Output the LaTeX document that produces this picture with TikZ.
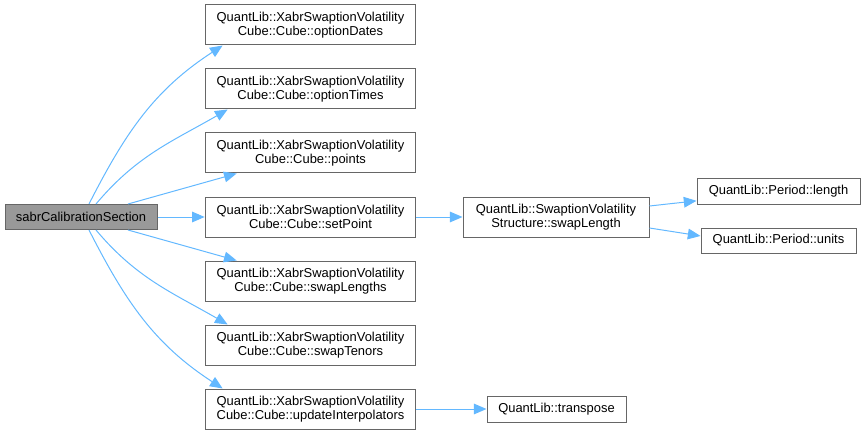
\documentclass[tikz,border=0pt]{standalone}
\usepackage{fontspec}
\setmainfont{Liberation Sans}
\usetikzlibrary{arrows.meta}

\definecolor{edgeblue}{HTML}{63B8FF}
\definecolor{boxgray}{HTML}{666666}
\definecolor{rootgray}{HTML}{999999}

\begin{document}
\begin{tikzpicture}[x=0.75pt,y=0.75pt,
    >={Triangle[length=9.5pt,width=8pt]},
    fn/.style={draw=boxgray,fill=white,line width=0.75pt,align=center,
      inner sep=2pt,font=\fontsize{9.7}{10.7}\selectfont},
    cube/.style={fn,minimum width=158pt,minimum height=30pt},
    edge/.style={->,draw=edgeblue,line width=0.75pt}]
  \useasboundingbox (0,0) rectangle (865,-435);

  % caller
  \node[fn,fill=rootgray,minimum width=114pt,minimum height=18.75pt] (root)
    at (81,-217) {sabrCalibrationSection};

  % Cube members
  \node[cube] (dates)  at (310.5,-25)  {QuantLib::XabrSwaptionVolatility\\Cube::Cube::optionDates};
  \node[cube] (times)  at (310.5,-89)  {QuantLib::XabrSwaptionVolatility\\Cube::Cube::optionTimes};
  \node[cube] (points) at (310.5,-153) {QuantLib::XabrSwaptionVolatility\\Cube::Cube::points};
  \node[cube] (setpt)  at (310.5,-217) {QuantLib::XabrSwaptionVolatility\\Cube::Cube::setPoint};
  \node[cube] (lens)   at (310.5,-281) {QuantLib::XabrSwaptionVolatility\\Cube::Cube::swapLengths};
  \node[cube] (tenors) at (310.5,-345) {QuantLib::XabrSwaptionVolatility\\Cube::Cube::swapTenors};
  \node[cube] (interp) at (310.5,-409) {QuantLib::XabrSwaptionVolatility\\Cube::Cube::updateInterpolators};

  % further callees
  \node[fn,minimum width=139.5pt,minimum height=30pt] (swaplen)
    at (556,-217) {QuantLib::SwaptionVolatility\\Structure::swapLength};
  \node[fn,minimum width=122.25pt,minimum height=18.75pt] (plen)
    at (778.5,-191.5) {QuantLib::Period::length};
  \node[fn,minimum width=116.25pt,minimum height=18.75pt] (punits)
    at (778.5,-240.5) {QuantLib::Period::units};
  \node[fn,minimum width=104.25pt,minimum height=19.5pt] (transp)
    at (556.5,-409) {QuantLib::transpose};

  \draw[edge] ([xshift=6pt]root.north) to[out=63,in=-147] ([xshift=13.5pt]dates.south west);
  \draw[edge] ([xshift=11.25pt]root.north) to[out=50,in=-150] ([xshift=17.25pt]times.south west);
  \draw[edge] ([xshift=35.25pt]root.north) -- ([xshift=24pt]points.south west);
  \draw[edge] (root.east) -- (setpt.west);
  \draw[edge] ([xshift=35.25pt]root.south) -- ([xshift=24pt]lens.north west);
  \draw[edge] ([xshift=11.25pt]root.south) to[out=-50,in=150] ([xshift=17.25pt]tenors.north west);
  \draw[edge] ([xshift=6pt]root.south) to[out=-63,in=147] ([xshift=13.5pt]interp.north west);

  \draw[edge] (setpt.east) -- (swaplen.west);
  \draw[edge] ([yshift=8.25pt]swaplen.east) -- ([yshift=-7pt]plen.west);
  \draw[edge] ([yshift=-8.25pt]swaplen.east) -- ([yshift=3.4pt]punits.west);
  \draw[edge] (interp.east) -- (transp.west);
\end{tikzpicture}
\end{document}
